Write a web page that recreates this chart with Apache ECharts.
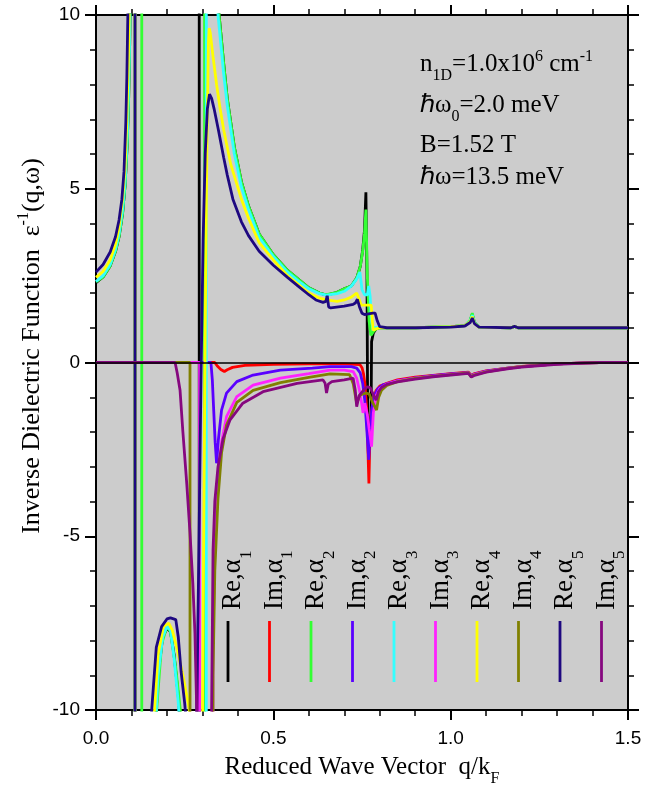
<!DOCTYPE html>
<html>
<head>
<meta charset="utf-8">
<script src="https://cdn.jsdelivr.net/npm/echarts@6/dist/echarts.min.js"></script>
<style>
html, body { margin: 0; padding: 0; background: #ffffff; }
#chart { width: 667px; height: 790px; }
</style>
</head>
<body>
<div id="chart"></div>
<script>
// Inverse dielectric function of a 1D electron gas, real and imaginary parts
// for five values of alpha. Each series is a list of [q/kF, value] pairs.
const reAlpha1 = [[0,2.3],[0.02,2.46],[0.04,2.78],[0.055,3.2],[0.065,3.62],[0.075,4.3],[0.082,5.1],[0.088,6.3],[0.092,7.6],[0.095,9.2],[0.1,13],[0.106,25],[0.11,200],[0.1101,-200],[0.13,-45],[0.15,-18],[0.165,-11],[0.175,-9],[0.188,-7.9],[0.2,-7.65],[0.21,-7.75],[0.22,-8.4],[0.232,-9.6],[0.245,-11.8],[0.26,-17],[0.275,-35],[0.291,-300],[0.2911,300],[0.31,60],[0.33,17],[0.347,10],[0.36,8.6],[0.37,7.6],[0.38,6.9],[0.39,6.2],[0.41,5.2],[0.43,4.5],[0.46,3.7],[0.5,3.1],[0.54,2.65],[0.57,2.4],[0.6,2.15],[0.63,2.0],[0.65,1.94],[0.68,2.02],[0.7,2.12],[0.72,2.2],[0.735,2.43],[0.745,2.76],[0.752,3.24],[0.757,3.8],[0.761,4.9],[0.764,2.5],[0.766,-1.5],[0.768,-2.2],[0.774,-2.2],[0.776,-1],[0.777,0.6],[0.782,0.85],[0.79,0.97],[0.8,1.0],[0.9,1.0],[1.0,1.03],[1.04,1.06],[1.055,1.2],[1.061,1.38],[1.067,1.15],[1.08,1.02],[1.17,1.0],[1.18,1.04],[1.19,1.0],[1.5,1.0]];
const imAlpha1 = [[0,0],[0.335,0],[0.342,-0.1],[0.352,-0.2],[0.362,-0.26],[0.37,-0.21],[0.385,-0.14],[0.42,-0.08],[0.5,-0.05],[0.6,-0.04],[0.7,-0.04],[0.744,-0.06],[0.75,-0.15],[0.754,-0.31],[0.758,-0.6],[0.763,-1.3],[0.767,-2.6],[0.7695,-3.48],[0.772,-2.3],[0.776,-1.5],[0.782,-1.05],[0.79,-0.8],[0.8,-0.68],[0.82,-0.6],[0.85,-0.5],[0.9,-0.42],[0.95,-0.37],[1.0,-0.32],[1.05,-0.28],[1.058,-0.37],[1.065,-0.33],[1.1,-0.24],[1.16,-0.16],[1.2,-0.11],[1.3,-0.04],[1.38,-0.01],[1.42,0],[1.5,0]];
const reAlpha2 = [[0,2.32],[0.02,2.46],[0.04,2.78],[0.055,3.2],[0.065,3.62],[0.075,4.3],[0.082,5.1],[0.088,6.3],[0.092,7.6],[0.095,9.2],[0.1,13],[0.11,25],[0.12,60],[0.129,300],[0.1291,-300],[0.14,-60],[0.155,-18],[0.171,-10],[0.185,-8.1],[0.2,-7.6],[0.21,-7.75],[0.225,-8.8],[0.24,-10.2],[0.26,-16],[0.285,-50],[0.306,-300],[0.3061,300],[0.33,20],[0.347,10],[0.36,8.6],[0.37,7.6],[0.38,6.9],[0.39,6.2],[0.41,5.2],[0.43,4.5],[0.46,3.7],[0.5,3.1],[0.54,2.65],[0.57,2.4],[0.6,2.15],[0.63,2.0],[0.65,1.95],[0.68,2.02],[0.7,2.12],[0.72,2.2],[0.735,2.43],[0.745,2.76],[0.752,3.2],[0.757,3.7],[0.761,4.4],[0.765,2.5],[0.77,1.2],[0.775,0.78],[0.778,0.73],[0.783,0.9],[0.79,0.97],[0.8,1.0],[0.9,1.0],[1.0,1.03],[1.04,1.06],[1.055,1.22],[1.061,1.42],[1.067,1.15],[1.08,1.02],[1.17,1.0],[1.18,1.04],[1.19,1.0],[1.5,1.0]];
const imAlpha2 = [[0,0],[0.324,0],[0.328,-0.5],[0.332,-1.4],[0.336,-2.3],[0.34,-2.9],[0.345,-2.23],[0.354,-1.37],[0.368,-0.88],[0.397,-0.55],[0.443,-0.36],[0.52,-0.22],[0.61,-0.16],[0.66,-0.12],[0.72,-0.12],[0.735,-0.16],[0.745,-0.3],[0.752,-0.6],[0.758,-1.1],[0.764,-2.0],[0.769,-2.8],[0.773,-2.0],[0.778,-1.3],[0.785,-0.95],[0.795,-0.75],[0.81,-0.64],[0.85,-0.52],[0.9,-0.44],[0.95,-0.38],[1.0,-0.33],[1.05,-0.29],[1.058,-0.38],[1.065,-0.34],[1.1,-0.25],[1.16,-0.16],[1.2,-0.12],[1.3,-0.04],[1.38,-0.01],[1.42,0],[1.5,0]];
const reAlpha3 = [[0,2.33],[0.02,2.5],[0.04,2.82],[0.055,3.25],[0.065,3.7],[0.075,4.4],[0.082,5.2],[0.088,6.5],[0.092,7.9],[0.095,9.5],[0.1,13.5],[0.106,25],[0.11,200],[0.1101,-200],[0.13,-45],[0.15,-18],[0.165,-11],[0.175,-9],[0.188,-7.9],[0.2,-7.6],[0.21,-7.7],[0.22,-8.5],[0.232,-9.8],[0.245,-12],[0.26,-18],[0.285,-60],[0.311,-300],[0.3111,300],[0.33,17],[0.344,10],[0.36,8.3],[0.37,7.4],[0.38,6.7],[0.39,6.0],[0.41,5.05],[0.43,4.4],[0.46,3.6],[0.5,3.05],[0.54,2.6],[0.57,2.35],[0.6,2.12],[0.63,1.98],[0.65,1.94],[0.68,1.98],[0.7,2.05],[0.72,2.2],[0.735,2.4],[0.744,2.6],[0.75,2.1],[0.757,1.95],[0.765,1.95],[0.769,2.2],[0.773,1.9],[0.776,1.3],[0.78,1.02],[0.8,1.0],[0.9,1.0],[1.0,1.03],[1.04,1.06],[1.055,1.2],[1.061,1.36],[1.067,1.15],[1.08,1.02],[1.17,1.0],[1.18,1.04],[1.19,1.0],[1.5,1.0]];
const imAlpha3 = [[0,0],[0.292,0],[0.2925,-40],[0.326,-40],[0.33,-8],[0.335,-5.4],[0.344,-3.47],[0.354,-2.3],[0.368,-1.56],[0.397,-0.98],[0.443,-0.65],[0.52,-0.45],[0.6,-0.32],[0.66,-0.22],[0.7,-0.22],[0.725,-0.26],[0.735,-0.45],[0.745,-0.9],[0.753,-1.45],[0.758,-1.17],[0.765,-1.5],[0.77,-1.9],[0.777,-2.42],[0.782,-1.45],[0.79,-0.95],[0.8,-0.75],[0.82,-0.62],[0.85,-0.53],[0.9,-0.45],[0.95,-0.39],[1.0,-0.34],[1.05,-0.3],[1.058,-0.4],[1.065,-0.35],[1.1,-0.26],[1.16,-0.17],[1.2,-0.12],[1.3,-0.04],[1.38,-0.01],[1.42,0],[1.5,0]];
const reAlpha4 = [[0,2.45],[0.02,2.62],[0.04,2.95],[0.055,3.4],[0.065,3.9],[0.075,4.7],[0.082,5.6],[0.087,7.0],[0.091,8.6],[0.094,10.2],[0.1,15],[0.106,30],[0.11,200],[0.1101,-200],[0.13,-40],[0.15,-16],[0.162,-10.5],[0.175,-8.4],[0.19,-7.6],[0.205,-7.5],[0.215,-7.7],[0.23,-8.3],[0.245,-9.0],[0.26,-9.8],[0.27,-10.5],[0.285,-25],[0.29,-40],[0.298,-14],[0.303,-6],[0.308,1],[0.313,6.5],[0.317,9.2],[0.319,9.62],[0.322,9.5],[0.33,8.8],[0.34,8.0],[0.35,7.3],[0.36,6.7],[0.38,5.7],[0.41,4.7],[0.43,4.15],[0.46,3.45],[0.5,2.95],[0.54,2.5],[0.57,2.25],[0.6,2.0],[0.63,1.85],[0.65,1.8],[0.68,1.76],[0.7,1.8],[0.72,1.88],[0.735,2.0],[0.741,1.85],[0.748,1.65],[0.76,1.65],[0.776,1.65],[0.779,1.2],[0.782,0.93],[0.79,0.97],[0.8,1.0],[0.9,1.0],[1.0,1.03],[1.04,1.06],[1.055,1.18],[1.061,1.32],[1.067,1.13],[1.08,1.02],[1.17,1.0],[1.18,1.04],[1.19,1.0],[1.5,1.0]];
const imAlpha4 = [[0,0],[0.265,0],[0.2655,-40],[0.326,-40],[0.33,-9],[0.335,-6.0],[0.344,-3.9],[0.354,-2.6],[0.368,-1.8],[0.397,-1.15],[0.443,-0.8],[0.52,-0.58],[0.6,-0.43],[0.66,-0.33],[0.715,-0.35],[0.725,-0.6],[0.735,-1.17],[0.745,-0.93],[0.76,-0.88],[0.77,-0.9],[0.78,-1.15],[0.791,-1.37],[0.797,-1.0],[0.805,-0.8],[0.82,-0.66],[0.85,-0.55],[0.9,-0.46],[0.95,-0.4],[1.0,-0.35],[1.05,-0.3],[1.058,-0.41],[1.065,-0.36],[1.1,-0.27],[1.16,-0.17],[1.2,-0.12],[1.3,-0.04],[1.38,-0.01],[1.42,0],[1.5,0]];
const reAlpha5 = [[0,2.6],[0.02,2.82],[0.04,3.18],[0.055,3.62],[0.065,4.1],[0.073,4.7],[0.079,5.5],[0.084,6.9],[0.087,8.2],[0.089,9.5],[0.093,12],[0.1,20],[0.106,40],[0.11,200],[0.1101,-200],[0.13,-35],[0.145,-14],[0.157,-10],[0.17,-8.2],[0.185,-7.6],[0.2,-7.38],[0.21,-7.35],[0.225,-7.4],[0.232,-7.9],[0.24,-8.9],[0.25,-9.8],[0.26,-11],[0.27,-15],[0.28,-12],[0.284,-10],[0.29,-5.5],[0.296,-0.5],[0.302,3.5],[0.308,6],[0.314,7.3],[0.32,7.72],[0.326,7.6],[0.333,7.3],[0.345,6.7],[0.36,5.9],[0.37,5.4],[0.386,4.7],[0.41,4.05],[0.43,3.65],[0.46,3.2],[0.5,2.8],[0.54,2.45],[0.57,2.2],[0.6,1.95],[0.62,1.8],[0.64,1.73],[0.648,1.76],[0.652,1.92],[0.656,1.6],[0.662,1.57],[0.7,1.62],[0.725,1.67],[0.732,1.72],[0.737,1.82],[0.743,1.6],[0.75,1.42],[0.757,1.38],[0.78,1.42],[0.787,1.42],[0.793,1.2],[0.8,1.03],[0.82,1.0],[0.9,1.0],[1.0,1.02],[1.04,1.05],[1.055,1.15],[1.061,1.28],[1.067,1.12],[1.08,1.02],[1.17,1.0],[1.18,1.04],[1.19,1.0],[1.5,1.0]];
const imAlpha5 = [[0,0],[0.223,0],[0.229,-0.3],[0.237,-0.8],[0.245,-2.0],[0.256,-3.5],[0.265,-4.9],[0.273,-6.35],[0.279,-7.8],[0.284,-10],[0.29,-30],[0.32,-30],[0.326,-10],[0.33,-5.4],[0.335,-4.0],[0.344,-3.0],[0.358,-2.2],[0.378,-1.65],[0.414,-1.17],[0.471,-0.84],[0.567,-0.6],[0.64,-0.5],[0.646,-0.6],[0.65,-0.88],[0.655,-0.62],[0.665,-0.55],[0.7,-0.5],[0.725,-0.45],[0.731,-0.8],[0.735,-1.27],[0.742,-0.95],[0.754,-0.8],[0.765,-0.7],[0.773,-0.72],[0.781,-0.9],[0.79,-1.08],[0.796,-0.85],[0.805,-0.72],[0.82,-0.63],[0.85,-0.56],[0.9,-0.48],[0.95,-0.41],[1.0,-0.36],[1.05,-0.31],[1.058,-0.42],[1.065,-0.38],[1.1,-0.28],[1.16,-0.18],[1.2,-0.13],[1.3,-0.05],[1.38,-0.015],[1.42,0],[1.5,0]];

// Series drawing order, colours and legend captions ([text, 'sub'|'sup'|''] runs)
const seriesData = [reAlpha1, imAlpha1, reAlpha2, imAlpha2, reAlpha3, imAlpha3, reAlpha4, imAlpha4, reAlpha5, imAlpha5];
const seriesColors = ['#000000', '#ff0000', '#33ff33', '#5a00ff', '#33ffff', '#ff22ff', '#ffff00', '#808000', '#1e0880', '#86087f'];
const seriesLabels = [
  [['Re,α',''],['1','sub']], [['Im,α',''],['1','sub']],
  [['Re,α',''],['2','sub']], [['Im,α',''],['2','sub']],
  [['Re,α',''],['3','sub']], [['Im,α',''],['3','sub']],
  [['Re,α',''],['4','sub']], [['Im,α',''],['4','sub']],
  [['Re,α',''],['5','sub']], [['Im,α',''],['5','sub']]
];

// Axis ranges and titles
const xRange = [0, 1.5];
const yRange = [-10, 10];
const xTitle = [['Reduced Wave Vector  q/k',''],['F','sub']];
const yTitle = [['Inverse Dielectric Function  ε',''],['-1','sup'],['(q,ω)','']];
const paramLines = [
  [['n',''],['1D','sub'],['=1.0x10',''],['6','sup'],[' cm',''],['-1','sup']],
  [['ℏω',''],['0','sub'],['=2.0 meV','']],
  [['B=1.52 T','']],
  [['ℏω=13.5 meV','']]
];

const SERIF = '"Liberation Serif", "Times New Roman", serif';
const SANS = '"Liberation Sans", Arial, sans-serif';
const measure = document.createElement('canvas').getContext('2d');

// Lay out a run of text pieces with sub/superscripts along a baseline.
function textRun(parts, size, family) {
  const items = [];
  let x = 0;
  parts.forEach(([t, kind]) => {
    const s = kind ? Math.round(size * 0.62) : size;
    const base = kind === 'sub' ? size * 0.36 : (kind === 'sup' ? -size * 0.42 : 0);
    const font = s + 'px ' + family;
    measure.font = font;
    items.push({
      type: 'text', x: x, y: base - s * 0.32,
      style: { text: t, font: font, fill: '#000', verticalAlign: 'middle', align: 'left' }
    });
    x += measure.measureText(t).width;
  });
  return { items: items, width: x };
}

const grid = { left: 96, top: 15, width: 532, height: 695 };

const graphics = [];
// x-axis title, centred under the plot
(function () {
  const r = textRun(xTitle, 25, SERIF);
  graphics.push({ type: 'group', x: grid.left + grid.width / 2 - r.width / 2, y: 775, children: r.items });
})();
// y-axis title, rotated
(function () {
  const r = textRun(yTitle, 26, SERIF);
  graphics.push({ type: 'group', x: 40, y: 346 + r.width / 2, rotation: Math.PI / 2, children: r.items });
})();
// parameter block
paramLines.forEach((ln, i) => {
  const r = textRun(ln, 25, SERIF);
  graphics.push({ type: 'group', x: 420, y: [72, 113, 153, 185][i], children: r.items });
});
// legend: rotated captions with a short coloured stroke under each
seriesLabels.forEach((lab, i) => {
  const lx = 228 + i * 41.5;
  const r = textRun(lab, 27, SERIF);
  graphics.push({ type: 'group', x: lx + 14, y: 610, rotation: Math.PI / 2, children: r.items });
  graphics.push({
    type: 'line', shape: { x1: lx, y1: 621, x2: lx, y2: 682 },
    style: { stroke: seriesColors[i], lineWidth: 2.8 }, z: 100
  });
});

function xAxisDef(pos) {
  return {
    type: 'value', position: pos, min: xRange[0], max: xRange[1], interval: 0.5,
    axisLine: { show: true, onZero: false, lineStyle: { color: '#000', width: 2 } },
    axisTick: { show: true, inside: false, length: 10, lineStyle: { color: '#000', width: 2 } },
    minorTick: { show: true, splitNumber: 5, length: 6, lineStyle: { color: '#000', width: 1.5 } },
    axisLabel: {
      show: pos === 'bottom', margin: 19, color: '#000', fontSize: 19, fontFamily: SANS,
      formatter: v => v.toFixed(1)
    },
    splitLine: { show: false }, minorSplitLine: { show: false }
  };
}
function yAxisDef(pos) {
  return {
    type: 'value', position: pos, min: yRange[0], max: yRange[1], interval: 5,
    axisLine: { show: true, onZero: false, lineStyle: { color: '#000', width: 2 } },
    axisTick: { show: true, inside: false, length: 11, lineStyle: { color: '#000', width: 2 } },
    minorTick: { show: true, splitNumber: 5, length: 6, lineStyle: { color: '#000', width: 1.5 } },
    axisLabel: { show: pos === 'left', margin: 16, color: '#000', fontSize: 19, fontFamily: SANS },
    splitLine: { show: false }, minorSplitLine: { show: false }
  };
}

const series = seriesData.map((d, i) => ({
  type: 'line', data: d, xAxisIndex: 0, yAxisIndex: 0,
  showSymbol: false, symbol: 'none', clip: true, smooth: false,
  lineStyle: { color: seriesColors[i], width: 2.8 },
  itemStyle: { color: seriesColors[i] },
  emphasis: { disabled: true }, silent: true
}));
// zero reference line
series[0].markLine = {
  silent: true, symbol: 'none', label: { show: false },
  lineStyle: { color: '#000', width: 1.5, type: 'solid' },
  data: [{ yAxis: 0 }], animation: false
};

const chart = echarts.init(document.getElementById('chart'), null, { renderer: 'canvas' });
chart.setOption({
  animation: false,
  backgroundColor: '#ffffff',
  grid: Object.assign({ show: true, backgroundColor: '#cccccc', borderWidth: 0 }, grid),
  xAxis: [xAxisDef('bottom'), xAxisDef('top')],
  yAxis: [yAxisDef('left'), yAxisDef('right')],
  series: series,
  graphic: graphics
});
</script>
</body>
</html>
